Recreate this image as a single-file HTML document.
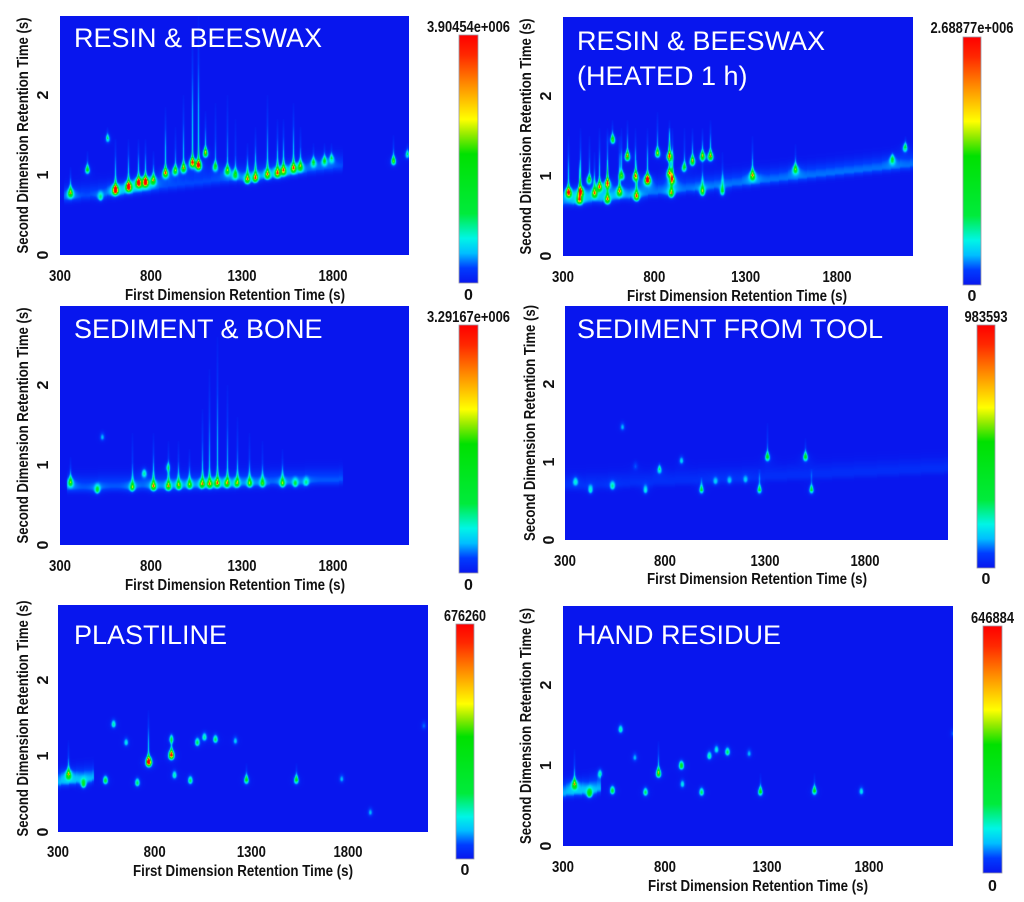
<!DOCTYPE html>
<html><head><meta charset="utf-8"><title>GCxGC heatmaps</title>
<style>
html,body{margin:0;padding:0;background:#fff;}
#root{position:relative;width:1024px;height:902px;overflow:hidden;background:#fff;}
canvas{position:absolute;display:block;}
svg{position:absolute;left:0;top:0;}
text{font-family:"Liberation Sans",sans-serif;}
.tk{font-weight:bold;font-size:16px;fill:#111;}
.al{font-weight:bold;font-size:16px;fill:#111;}
.ttl{font-size:27px;fill:#fff;}
</style></head>
<body>
<div id="root">
<svg id="ov" width="1024" height="902"></svg>
</div>
<script>
// ---------- DATA (first-dim time s, second-dim time s, relative intensity, streak top s) ----------
const P1_T1=[355,448,602,675,730,767,810,877,930,976,1025,1058,1097,1217,1327,1371,1437,1492,1525,1580,1618,1690,1750,1790,2130,2206,520,560,1150,1260];
const P1_T2=[0.77,1.06,0.81,0.85,0.90,0.91,0.93,1.02,1.05,1.08,1.15,1.12,1.27,1.05,0.94,0.96,1.00,1.02,1.05,1.08,1.10,1.15,1.17,1.20,1.17,1.25,0.72,1.45,1.10,1.00];
const P1_I=[0.45,0.35,1.0,0.95,0.9,0.95,0.45,0.6,0.4,0.5,0.75,0.9,0.5,0.4,0.5,0.55,0.5,0.55,0.55,0.55,0.4,0.25,0.25,0.2,0.4,0.25,0.25,0.25,0.35,0.3];
const P1_TAIL=[1.1,1.3,1.45,1.45,1.45,1.45,1.3,1.85,1.6,2.0,2.8,3.0,1.8,2.0,1.4,1.6,2.0,1.7,1.7,1.9,1.6,1.4,1.4,1.4,1.5,1.4,0,1.6,1.9,1.7];
const P1_BAND=[320,1850,0.72,1.12,0.15];

const P2_T1=[328,388,395,470,497,541,541,570,607,650,694,700,760,815,880,880,895,890,1006,1061,1105,1061,1170,1335,1570,2100,2170,440,620,960];
const P2_T2=[0.79,0.70,0.80,0.78,0.86,0.90,0.70,1.45,0.80,1.24,0.99,0.74,0.95,1.28,1.24,1.03,0.95,0.78,1.18,1.24,1.24,0.80,0.80,1.00,1.08,1.20,1.35,0.95,1.0,1.1];
const P2_I=[0.8,0.6,0.7,0.5,0.55,0.6,0.5,0.4,0.5,0.55,0.55,0.55,1.0,0.45,0.6,0.55,0.6,0.45,0.5,0.5,0.55,0.4,0.3,0.5,0.35,0.25,0.3,0.4,0.4,0.35];
const P2_TAIL=[1.5,1.2,1.6,1.3,1.6,1.6,1.2,1.7,1.5,1.7,1.6,1.2,1.6,1.8,1.7,1.6,1.6,1.2,1.6,1.6,1.7,1.2,1.3,1.5,1.4,1.3,1.5,1.5,1.6,1.6];
const P2_BAND=[300,2220,0.68,1.15,0.18];

const P3_T1=[355,503,695,760,811,893,1010,1078,1161,1215,1270,1410,1520,1590,890,530,950,1120,1340,1650];
const P3_T2=[0.78,0.69,0.72,0.90,0.73,0.73,0.75,0.76,0.77,0.77,0.77,0.77,0.77,0.77,0.97,1.35,0.74,0.76,0.77,0.78];
const P3_I=[0.35,0.3,0.35,0.25,0.5,0.45,0.35,0.45,0.5,0.45,0.4,0.3,0.35,0.25,0.2,0.2,0.4,0.45,0.35,0.2];
const P3_TAIL=[1.1,0,1.4,0,1.4,1.3,1.2,1.7,2.6,2.0,1.6,1.3,1.2,0,0,0,1.3,2.2,1.4,0];
const P3_BAND=[340,1850,0.72,0.82,0.16];

const P4_T1=[350,425,535,585,700,770,880,980,1270,1310,1500,1530,1050,1120,1200,650];
const P4_T2=[0.75,0.64,0.69,1.45,0.64,0.90,1.02,0.64,0.64,1.06,1.06,0.64,0.75,0.76,0.77,0.95];
const P4_I=[0.2,0.25,0.25,0.2,0.25,0.22,0.22,0.3,0.3,0.35,0.35,0.3,0.15,0.15,0.15,0.12];
const P4_TAIL=[0,0,0,0,0,1.0,0,0.8,0.9,1.5,1.3,0.9,0,0,0,0];
const P4_BAND=[300,2220,0.70,0.92,0.10];

const P5_T1=[352,430,543,585,650,708,767,884,900,884,982,1018,1055,1112,1215,1272,1530,1765,1913,2190];
const P5_T2=[0.75,0.63,0.68,1.42,1.18,0.65,0.92,1.01,0.75,1.22,0.68,1.18,1.25,1.22,1.20,0.68,0.68,0.70,0.26,1.40];
const P5_I=[0.45,0.35,0.4,0.3,0.25,0.35,1.0,0.8,0.3,0.3,0.35,0.35,0.3,0.35,0.22,0.35,0.35,0.2,0.2,0.15];
const P5_TAIL=[1.2,0,0,0,0,0,1.6,1.3,0,0,0,0,0,0,0,0.9,0.9,0,0,0];
const P5_BAND=[300,480,0.66,0.72,0.22];

const P6_T1=[354,428,540,580,702,766,878,883,977,1015,1104,1050,1210,1265,1530,1760,480,650,2210];
const P6_T2=[0.76,0.65,0.69,1.45,0.67,0.90,1.00,0.77,0.67,1.12,1.17,1.20,1.15,0.67,0.68,0.68,0.90,1.10,1.40];
const P6_I=[0.45,0.4,0.4,0.3,0.35,0.5,0.45,0.25,0.35,0.3,0.35,0.25,0.2,0.35,0.35,0.25,0.25,0.2,0.15];
const P6_TAIL=[1.2,0,0,0,0,1.3,0,0,0,0,0,0,0,0.9,0.9,0,0,0,0];
const P6_BAND=[300,480,0.66,0.72,0.22];

const TITLES=[["RESIN & BEESWAX"],["RESIN & BEESWAX","(HEATED 1 h)"],["SEDIMENT & BONE"],["SEDIMENT FROM TOOL"],["PLASTILINE"],["HAND RESIDUE"]];
const MAXLABELS=["3.90454e+006","2.68877e+006","3.29167e+006","983593","676260","646884"];
const XTICKS=[300,800,1300,1800];
const YTICKS=[0,1,2];

// ---------- LAYOUT ----------
const LAYOUT=[
 {L:60,T:16,W:349,H:239,x300:60,x1800:333,y0:255,y2:95,cb:[459,35,19,248],lblY:26,zeroY:294,tickY:275,xlY:294,xlX:235,ylX:22,ytX:42,tX:74,tY:47,mw:83},
 {L:563,T:17,W:350,H:239,x300:563,x1800:837,y0:256,y2:96,cb:[963,37,18,248],lblY:27,zeroY:295,tickY:276,xlX:737,xlY:295,ylX:525,ytX:545,tX:577,tY:50,mw:83},
 {L:60,T:306,W:349,H:239,x300:60,x1800:333,y0:545,y2:385,cb:[459,325,19,248],lblY:316,zeroY:584,tickY:565,xlY:584,xlX:235,ylX:22,ytX:42,tX:74,tY:338,mw:83},
 {L:565,T:306,W:383,H:234,x300:565,x1800:865,y0:540,y2:384,cb:[977,325,18,243],lblY:316,zeroY:578,tickY:560,xlY:578,xlX:757,ylX:529,ytX:548,tX:577,tY:338,mw:43},
 {L:58,T:605,W:370,H:227,x300:58,x1800:348,y0:832,y2:680,cb:[456,624,18,235],lblY:615,zeroY:869,tickY:851,xlY:870,xlX:243,ylX:22,ytX:42,tX:74,tY:644,mw:42},
 {L:563,T:606,W:390,H:240,x300:563,x1800:869,y0:846,y2:685,cb:[983,626,19,247],lblY:617,zeroY:885,tickY:866,xlY:885,xlX:758,ylX:525,ytX:545,tX:577,tY:644,mw:43}
];
const DATA=[[P1_T1,P1_T2,P1_I,P1_TAIL,P1_BAND],[P2_T1,P2_T2,P2_I,P2_TAIL,P2_BAND],[P3_T1,P3_T2,P3_I,P3_TAIL,P3_BAND],
 [P4_T1,P4_T2,P4_I,P4_TAIL,P4_BAND],[P5_T1,P5_T2,P5_I,P5_TAIL,P5_BAND],[P6_T1,P6_T2,P6_I,P6_TAIL,P6_BAND]];

const STOPS=[[0,[8,22,238]],[0.06,[0,60,255]],[0.12,[0,190,255]],[0.18,[0,245,230]],[0.28,[0,235,60]],[0.52,[0,225,0]],[0.6,[150,235,0]],[0.66,[255,255,0]],[0.8,[255,140,0]],[0.92,[255,40,0]],[1,[255,0,0]]];
function cmap(v){v=Math.max(0,Math.min(1,v));for(let i=1;i<STOPS.length;i++){if(v<=STOPS[i][0]){const a=STOPS[i-1],b=STOPS[i];const f=(v-a[0])/(b[0]-a[0]);return [0,1,2].map(k=>Math.round(a[1][k]+(b[1][k]-a[1][k])*f));}}return STOPS[STOPS.length-1][1];}

const root=document.getElementById('root');
const svg=document.getElementById('ov');
const NS='http://www.w3.org/2000/svg';
function mk(tag,attrs,parent){const e=document.createElementNS(NS,tag);for(const k in attrs)e.setAttribute(k,attrs[k]);(parent||svg).appendChild(e);return e;}

const defs=mk('defs',{});
const grad=mk('linearGradient',{id:'jet',x1:'0',y1:'1',x2:'0',y2:'0'},defs);
STOPS.forEach(s=>mk('stop',{offset:s[0],'stop-color':'rgb('+s[1].join(',')+')'},grad));

LAYOUT.forEach((g,pi)=>{
  const [T1,T2,I,TAIL,BAND]=DATA[pi];
  const xs=t=>g.x300+(t-300)*(g.x1800-g.x300)/1500-g.L;
  const ys=v=>g.y0-v*(g.y0-g.y2)/2-g.T;
  const cv=document.createElement('canvas');
  cv.width=g.W;cv.height=g.H;cv.style.left=g.L+'px';cv.style.top=g.T+'px';
  
  
  root.insertBefore(cv,svg);
  const buf=new Float32Array(g.W*g.H);
  const add=(x,y,v)=>{if(x>=0&&x<g.W&&y>=0&&y<g.H)buf[y*g.W+x]+=v;};
  const bx0=Math.round(xs(BAND[0])),bx1=Math.round(xs(BAND[1]));
  for(let x=bx0;x<=bx1;x++){const f=(x-bx0)/Math.max(1,bx1-bx0);const cy=ys(BAND[2]+(BAND[3]-BAND[2])*f);
    for(let dy=-22;dy<=22;dy++){const y=Math.round(cy+dy);const d=dy<0?dy/9:dy/4;add(x,y,BAND[4]*0.95*Math.exp(-d*d/2));}}
  for(let i=0;i<T1.length;i++){
    const cx=xs(T1[i]),cy=ys(T2[i]),a=I[i];
    for(let y=Math.floor(cy-14);y<=cy+14;y++)for(let x=Math.floor(cx-14);x<=cx+14;x++){
      const dx=x-cx,dy=y-cy;
      const sy=dy<0?3.6:2.4;
      const v=a*Math.exp(-(dx*dx)/(2*1.7*1.7)-(dy*dy)/(2*sy*sy))+a*0.14*Math.exp(-(dx*dx+dy*dy)/(2*5*5));
      add(x,y,v);}
    if(TAIL[i]>T2[i]){const top=ys(TAIL[i]);const L=cy-top;
      for(let y=Math.floor(top);y<cy;y++){const f=(cy-y)/L;const v=(Math.min(a,0.6)*0.5*(1-f)+0.04);
        for(let dx=-2;dx<=2;dx++){add(Math.round(cx+dx),y,v*Math.exp(-dx*dx/(2*0.8*0.8)));}}}
  }
  const ctx=cv.getContext('2d');const img=ctx.createImageData(g.W,g.H);
  for(let k=0;k<buf.length;k++){const c=cmap(Math.pow(Math.min(1,buf[k]),1.4));img.data[k*4]=c[0];img.data[k*4+1]=c[1];img.data[k*4+2]=c[2];img.data[k*4+3]=255;}
  ctx.putImageData(img,0,0);

  TITLES[pi].forEach((line,li)=>{const t=mk('text',{x:g.tX,y:g.tY+li*35,class:'ttl'});t.textContent=line;
    
    });
  XTICKS.forEach(v=>{const t=mk('text',{x:g.x300+(v-300)*(g.x1800-g.x300)/1500,y:g.tickY+6,class:'tk','text-anchor':'middle',textLength:v>=1000?29:22,lengthAdjust:'spacingAndGlyphs'});t.textContent=v;
    
    });
  YTICKS.forEach(v=>{const y=g.y0-v*(g.y0-g.y2)/2;const t=mk('text',{x:0,y:0,class:'tk','text-anchor':'middle',transform:'translate('+(g.ytX+6)+','+y+') rotate(-90)'});t.textContent=v;
    
    });
  const xl=mk('text',{x:g.xlX,y:g.xlY+6,class:'al','text-anchor':'middle',textLength:220,lengthAdjust:'spacingAndGlyphs'});xl.textContent='First Dimension Retention Time (s)';
  
  
  const yc=g.T+g.H/2;
  const yl=mk('text',{x:0,y:0,class:'al','text-anchor':'middle',textLength:236,lengthAdjust:'spacingAndGlyphs',transform:'translate('+(g.ylX+6)+','+yc+') rotate(-90)'});yl.textContent='Second Dimension Retention Time (s)';
  
  
  const cb=g.cb;
  const r=mk('rect',{x:cb[0],y:cb[1],width:cb[2],height:cb[3],fill:'url(#jet)',stroke:'#9a9aa8','stroke-width':0.8});
  
  
  const ml=mk('text',{x:cb[0]+cb[2]/2,y:g.lblY+6,class:'tk','text-anchor':'middle',textLength:g.mw,lengthAdjust:'spacingAndGlyphs'});ml.textContent=MAXLABELS[pi];
  
  
  const zl=mk('text',{x:cb[0]+cb[2]/2,y:g.zeroY+6,class:'tk','text-anchor':'middle'});zl.textContent='0';
  
  
});
</script>
</body></html>
